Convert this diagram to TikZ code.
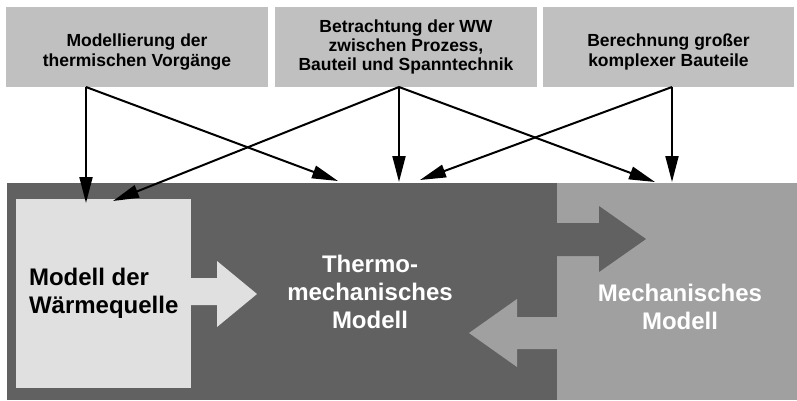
\documentclass[tikz,border=0pt]{standalone}
\usepackage{fontspec}
\setmainfont{Liberation Sans}
\usetikzlibrary{arrows.meta}
\definecolor{boxgrau}{RGB}{192,192,192}
\definecolor{dunkel}{RGB}{97,97,97}
\definecolor{mittel}{RGB}{160,160,160}
\definecolor{hell}{RGB}{224,224,224}
\begin{document}
\begin{tikzpicture}
[x=1pt,y=-1pt,
 topbox/.style={fill=boxgrau,minimum width=262pt,minimum height=80pt,inner sep=0pt},
 toptext/.style={align=center,font=\fontsize{17.5}{19.3}\selectfont\bfseries},
 bigtext/.style={align=center,font=\fontsize{24}{28}\selectfont\bfseries},
 pfeil/.style={line width=2pt,-{Triangle[length=26pt,width=13pt]}}]
\useasboundingbox (0,0) rectangle (797,400);
%% the three boxes on top
\node[topbox] (therm) at (137,47) {};
\node[topbox] (ww) at (406,47) {};
\node[topbox,minimum width=251pt] (gross) at (668.5,47) {};
\node[toptext] (thermtext) at (137,52) {Modellierung der\\thermischen Vorg\"ange};
\node[toptext] (wwtext) at (406,47) {Betrachtung der WW\\zwischen Prozess,\\Bauteil und Spanntechnik};
\node[toptext] (grosstext) at (668.5,52) {Berechnung gro\ss er\\komplexer Bauteile};
%% the models below
\node[fill=dunkel,minimum width=550pt,minimum height=217pt,anchor=north west,inner sep=0pt] (thermo) at (7,183) {};
\node[fill=mittel,minimum width=240pt,minimum height=217pt,anchor=north west,inner sep=0pt] (mech) at (557,183) {};
\node[bigtext,text=white] (thermotext) at (370,292) {Thermo-\\mechanisches\\Modell};
\node[bigtext,text=white] (mechtext) at (680,307) {Mechanisches\\Modell};
%% block arrows
\fill[hell] (190,278) -- (217,278) -- (217,261) -- (257,294) -- (217,327) -- (217,305) -- (190,305) -- cycle;
\fill[dunkel] (556,223) -- (599,223) -- (599,206) -- (646,239) -- (599,272) -- (599,256) -- (556,256) -- cycle;
\fill[mittel] (558,317) -- (517,317) -- (517,299) -- (469,333) -- (517,367) -- (517,349) -- (558,349) -- cycle;
\node[fill=hell,minimum width=175pt,minimum height=189pt,anchor=north west,inner sep=0pt,
  bigtext,align=left] (quelle) at (16,199) {Modell der\\W\"armequelle};
%% arrows from the boxes
\coordinate (s1) at (86,87);
\coordinate (s2) at (399,87);
\coordinate (s3) at (672,87);
\coordinate (q1) at (86,203);
\coordinate (q2) at (113,201);
\coordinate (t1) at (338,181);
\coordinate (t2) at (399,182);
\coordinate (t3) at (420,180);
\coordinate (m1) at (655,182);
\coordinate (m2) at (672,182);
\foreach \von/\nach in {s1/q1, s1/t1, s2/q2, s2/t2, s2/m1, s3/t3, s3/m2}
{
  \draw[pfeil] (\von) -- (\nach);
}
\end{tikzpicture}
\end{document}
